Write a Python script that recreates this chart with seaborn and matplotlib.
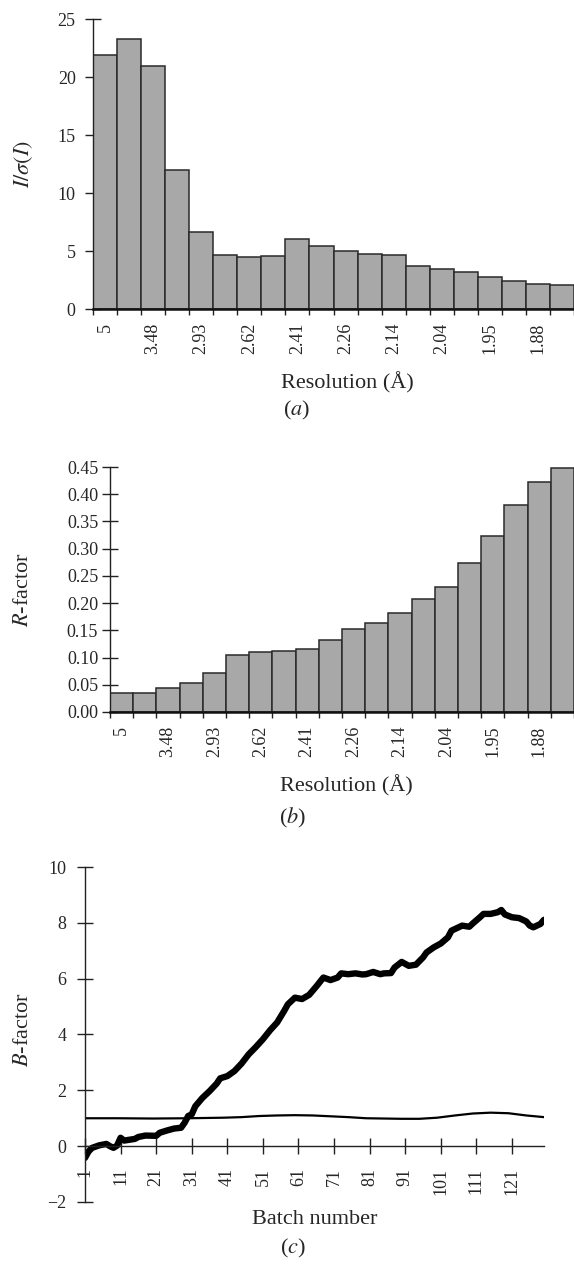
import matplotlib.pyplot as plt
import numpy as np
import seaborn as sns

sns.set_style("ticks")
plt.rcParams["font.family"] = ["Liberation Serif", "DejaVu Serif"]
plt.rcParams["mathtext.fontset"] = "stix"

# resolution bins (label shown on every other bin)
res_labels = ["5", "3.48", "2.93", "2.62", "2.41", "2.26", "2.14", "2.04", "1.95", "1.88"]
i_sigma = [21.9, 23.3, 20.95, 11.95, 6.65, 4.63, 4.48, 4.57, 6.0, 5.4,
           4.97, 4.74, 4.63, 3.7, 3.48, 3.16, 2.73, 2.41, 2.18, 2.04]
r_factor = [0.035, 0.035, 0.045, 0.053, 0.071, 0.104, 0.110, 0.112, 0.116, 0.133,
            0.153, 0.164, 0.181, 0.208, 0.229, 0.274, 0.324, 0.380, 0.423, 0.448]

# B-factor per batch (thick) and scale (thin)
batch = [1, 2, 3, 5, 7, 8, 9, 10, 11, 12, 15, 16, 18, 21, 22, 24, 26, 28, 29, 30,
         31, 32, 34, 36, 38, 39, 41, 43, 45, 47, 49, 51, 53, 55, 57, 58, 60, 62, 64, 66,
         68, 70, 72, 73, 75, 77, 79, 80, 82, 84, 85, 87, 88, 90, 92, 94, 96, 97, 99, 101,
         103, 104, 106, 107, 109, 110, 112, 113, 115, 117, 118, 119, 121, 123, 125, 126, 127, 129, 130]
b_factor = [-0.42, -0.19, -0.06, 0.03, 0.08, 0.0, -0.06, 0.02, 0.3, 0.2,
            0.26, 0.33, 0.38, 0.37, 0.48, 0.56, 0.63, 0.66, 0.84, 1.08,
            1.14, 1.43, 1.73, 1.97, 2.24, 2.43, 2.51, 2.69, 2.96, 3.29,
            3.55, 3.83, 4.15, 4.43, 4.85, 5.08, 5.32, 5.27, 5.42, 5.72,
            6.04, 5.95, 6.04, 6.19, 6.16, 6.19, 6.15, 6.16, 6.24, 6.16,
            6.19, 6.2, 6.4, 6.6, 6.46, 6.5, 6.76, 6.94, 7.12, 7.26,
            7.48, 7.72, 7.84, 7.9, 7.86, 7.98, 8.2, 8.32, 8.32, 8.38,
            8.46, 8.3, 8.2, 8.17, 8.05, 7.9, 7.84, 7.96, 8.11]
scale_batch = [1, 10, 20, 30, 40, 45, 50, 55, 60, 65, 70, 75, 80, 85, 90, 95, 100,
               105, 110, 115, 120, 125, 130]
scale_k = [1.0, 1.0, 0.99, 1.0, 1.02, 1.04, 1.08, 1.1, 1.11, 1.1, 1.07, 1.04, 1.0,
           0.99, 0.98, 0.98, 1.02, 1.1, 1.17, 1.2, 1.18, 1.1, 1.04]

W, H = 574, 1264
fig = plt.figure(figsize=(W / 100, H / 100), dpi=100)


def px_axes(x0, top, w, h):
    return fig.add_axes([x0 / W, 1 - (top + h) / H, w / W, h / H])


def res_bars(ax, values, bar_px, ylim, yticks, fmt, ylabel, ypad):
    n = len(values)
    sns.barplot(x=np.arange(n), y=values, color="#a8a8a8", saturation=1,
                width=1.0, edgecolor="#2a2a2a", linewidth=1.1, ax=ax)
    ax.set_axisbelow(True)
    w_px = ax.get_position().width * W
    ax.set_xlim(-0.5, -0.5 + w_px / bar_px)
    ax.set_ylim(*ylim)
    ax.set_yticks(yticks)
    ax.set_yticklabels([fmt.format(v) for v in yticks])
    ax.set_xticks(np.arange(0, n, 2))
    ax.set_xticklabels(res_labels)
    ax.set_xticks(np.arange(-0.5, n), minor=True)
    ax.tick_params(axis="x", which="major", length=0, pad=10, labelsize=13,
                   labelrotation=90)
    ax.tick_params(axis="x", which="minor", direction="out", length=4.5,
                   width=1.0, color="#222222")
    ax.tick_params(axis="y", direction="inout", length=11, width=1.0,
                   color="#222222", pad=ypad, labelsize=13)
    sns.despine(ax=ax)
    ax.spines["bottom"].set_linewidth(1.8)
    ax.spines["bottom"].set_color("#111111")
    ax.spines["left"].set_linewidth(1.0)
    ax.spines["left"].set_color("#222222")
    ax.set_ylabel(ylabel, fontsize=16, va="center")
    ax.set_xlabel("Resolution (Å)", fontsize=16, va="center")


# (a)
ax_a = px_axes(93, 19, 481, 290)
res_bars(ax_a, i_sigma, 24.3, (0, 25), [0, 5, 10, 15, 20, 25], "{:g}",
         r"$I/\sigma(I)$", 7)
ax_a.yaxis.set_label_coords((24 - 93) / 481, 0.5)
ax_a.xaxis.set_label_coords((347 - 93) / 481, (309 - 383) / 290)
fig.text(297 / W, 1 - 410 / H, r"($a$)", fontsize=16, ha="center", va="center")

# (b)
ax_b = px_axes(110, 467, 464, 245)
res_bars(ax_b, r_factor, 23.5, (0, 0.45), list(np.arange(0, 0.46, 0.05)),
         "{:.2f}", r"$R$-factor", 3)
ax_b.yaxis.set_label_coords((23 - 110) / 464, 0.5)
ax_b.xaxis.set_label_coords((346 - 110) / 464, (712 - 786) / 245)
fig.text(293 / W, 1 - 818 / H, r"($b$)", fontsize=16, ha="center", va="center")

# (c)
ax_c = px_axes(85, 867, 459, 335)
sns.lineplot(x=scale_batch, y=scale_k, color="black", linewidth=1.6, ax=ax_c)
sns.lineplot(x=batch, y=b_factor, color="black", linewidth=4.6,
             solid_capstyle="round", solid_joinstyle="round", ax=ax_c)
ax_c.set_xlim(1, 130)
ax_c.set_ylim(-2, 10)
ax_c.set_yticks(np.arange(-2, 11, 2))
ax_c.set_xticks(np.arange(1, 130, 10))
ax_c.set_xticklabels([str(v) for v in range(1, 130, 10)])
sns.despine(ax=ax_c)
ax_c.spines["bottom"].set_position(("data", 0))
for s in ["bottom", "left"]:
    ax_c.spines[s].set_linewidth(1.0)
    ax_c.spines[s].set_color("#222222")
ax_c.tick_params(axis="both", direction="inout", length=11, width=1.0,
                 color="#222222", labelsize=13)
ax_c.tick_params(axis="x", pad=10, labelrotation=90)
ax_c.tick_params(axis="y", pad=8)
ax_c.set_ylabel(r"$B$-factor", fontsize=16, va="center")
ax_c.set_xlabel("Batch number", fontsize=16, va="center")
ax_c.yaxis.set_label_coords((24 - 85) / 459, (1202 - 1030) / 335)
ax_c.xaxis.set_label_coords((315 - 85) / 459, (1202 - 1220) / 335)
fig.text(293 / W, 1 - 1248 / H, r"($c$)", fontsize=16, ha="center", va="center")

fig.savefig("out.png", dpi=100)
